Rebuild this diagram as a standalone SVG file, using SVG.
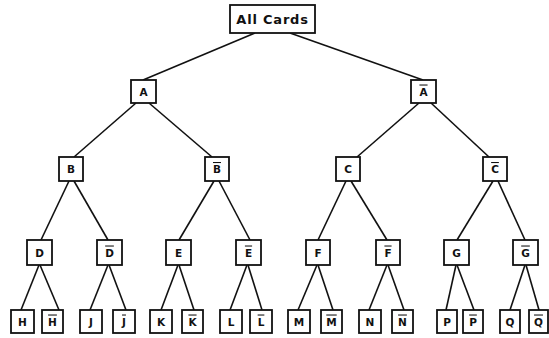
<svg xmlns="http://www.w3.org/2000/svg" width="549" height="338" viewBox="0 0 549 338">
<style>
.bg{fill:#fff}
.n rect{fill:#fff;stroke:#111;stroke-width:1.8}
.n text{font-family:"DejaVu Sans","Liberation Sans",sans-serif;font-weight:bold;font-size:10.5px;fill:#111;text-anchor:middle}
.ov{text-decoration:overline}
#edges line{stroke:#111;stroke-width:1.6;fill:none}
</style>
<rect class="bg" x="0" y="0" width="549" height="338"/>
<g id="edges">
<line x1="255" y1="33" x2="143" y2="80"/>
<line x1="290" y1="33" x2="423" y2="80"/>
<line x1="136" y1="103" x2="74" y2="157"/>
<line x1="149" y1="103" x2="212" y2="157"/>
<line x1="419" y1="103" x2="357" y2="157"/>
<line x1="431" y1="103" x2="489" y2="157"/>
<line x1="69" y1="181" x2="41" y2="240"/>
<line x1="74" y1="181" x2="108" y2="240"/>
<line x1="214" y1="181" x2="179" y2="240"/>
<line x1="219" y1="181" x2="250" y2="240"/>
<line x1="346" y1="181" x2="318" y2="240"/>
<line x1="351" y1="181" x2="387" y2="240"/>
<line x1="493" y1="181" x2="457" y2="240"/>
<line x1="498" y1="181" x2="525" y2="240"/>
<line x1="39" y1="265" x2="21" y2="310"/>
<line x1="40" y1="265" x2="59" y2="310"/>
<line x1="108" y1="265" x2="90" y2="310"/>
<line x1="109" y1="265" x2="126" y2="310"/>
<line x1="178" y1="265" x2="161" y2="310"/>
<line x1="179" y1="265" x2="194" y2="310"/>
<line x1="247" y1="265" x2="230" y2="310"/>
<line x1="248" y1="265" x2="262" y2="310"/>
<line x1="317" y1="265" x2="298" y2="310"/>
<line x1="318" y1="265" x2="333" y2="310"/>
<line x1="387" y1="265" x2="369" y2="310"/>
<line x1="388" y1="265" x2="404" y2="310"/>
<line x1="456" y1="265" x2="446" y2="310"/>
<line x1="457" y1="265" x2="474" y2="310"/>
<line x1="525" y1="265" x2="510" y2="310"/>
<line x1="526" y1="265" x2="539" y2="310"/>
</g>
<g id="all" class="n"><rect x="230" y="5" width="85" height="28"/><text x="272.5" y="23.5" style="font-size:13px;letter-spacing:0.8px">All Cards</text></g>
<g id="A" class="n"><rect x="131" y="80" width="25" height="23"/><text x="143.5" y="95.5">A</text></g>
<g id="notA" class="n"><rect x="411" y="80" width="25" height="23"/><text x="423.5" y="95.5" class="ov">A</text></g>
<g id="B" class="n"><rect x="59" y="157" width="24" height="24"/><text x="71" y="173">B</text></g>
<g id="notB" class="n"><rect x="205" y="157" width="24" height="24"/><text x="217" y="173" class="ov">B</text></g>
<g id="C" class="n"><rect x="336" y="157" width="24" height="24"/><text x="348" y="173">C</text></g>
<g id="notC" class="n"><rect x="483" y="157" width="24" height="24"/><text x="495" y="173" class="ov">C</text></g>
<g id="D" class="n"><rect x="27" y="240" width="25" height="25"/><text x="39.5" y="256.5">D</text></g>
<g id="notD" class="n"><rect x="97" y="240" width="25" height="25"/><text x="109.5" y="256.5" class="ov">D</text></g>
<g id="E" class="n"><rect x="166" y="240" width="25" height="25"/><text x="178.5" y="256.5">E</text></g>
<g id="notE" class="n"><rect x="236" y="240" width="25" height="25"/><text x="248.5" y="256.5" class="ov">E</text></g>
<g id="F" class="n"><rect x="306" y="240" width="24" height="25"/><text x="318" y="256.5">F</text></g>
<g id="notF" class="n"><rect x="376" y="240" width="24" height="25"/><text x="388" y="256.5" class="ov">F</text></g>
<g id="G" class="n"><rect x="444" y="240" width="25" height="25"/><text x="456.5" y="256.5">G</text></g>
<g id="notG" class="n"><rect x="513" y="240" width="25" height="25"/><text x="525.5" y="256.5" class="ov">G</text></g>
<g id="H" class="n"><rect x="11" y="310" width="23" height="23"/><text x="22.5" y="325.5">H</text></g>
<g id="notH" class="n"><rect x="42" y="310" width="21" height="23"/><text x="52.5" y="325.5" class="ov">H</text></g>
<g id="J" class="n"><rect x="80" y="310" width="22" height="23"/><text x="91" y="325.5">J</text></g>
<g id="notJ" class="n"><rect x="113" y="310" width="22" height="23"/><text x="124" y="325.5" class="ov">J</text></g>
<g id="K" class="n"><rect x="150" y="310" width="22" height="23"/><text x="161" y="325.5">K</text></g>
<g id="notK" class="n"><rect x="182" y="310" width="21" height="23"/><text x="192.5" y="325.5" class="ov">K</text></g>
<g id="L" class="n"><rect x="220" y="310" width="22" height="23"/><text x="231" y="325.5">L</text></g>
<g id="notL" class="n"><rect x="250" y="310" width="22" height="23"/><text x="261" y="325.5" class="ov">L</text></g>
<g id="M" class="n"><rect x="288" y="310" width="22" height="23"/><text x="299" y="325.5">M</text></g>
<g id="notM" class="n"><rect x="321" y="310" width="21" height="23"/><text x="331.5" y="325.5" class="ov">M</text></g>
<g id="N" class="n"><rect x="359" y="310" width="22" height="23"/><text x="370" y="325.5">N</text></g>
<g id="notN" class="n"><rect x="392" y="310" width="21" height="23"/><text x="402.5" y="325.5" class="ov">N</text></g>
<g id="P" class="n"><rect x="437" y="310" width="20" height="23"/><text x="447" y="325.5">P</text></g>
<g id="notP" class="n"><rect x="463" y="310" width="20" height="23"/><text x="473" y="325.5" class="ov">P</text></g>
<g id="Q" class="n"><rect x="500" y="310" width="20" height="23"/><text x="510" y="325.5">Q</text></g>
<g id="notQ" class="n"><rect x="529" y="310" width="19" height="23"/><text x="538.5" y="325.5" class="ov">Q</text></g>
</svg>
